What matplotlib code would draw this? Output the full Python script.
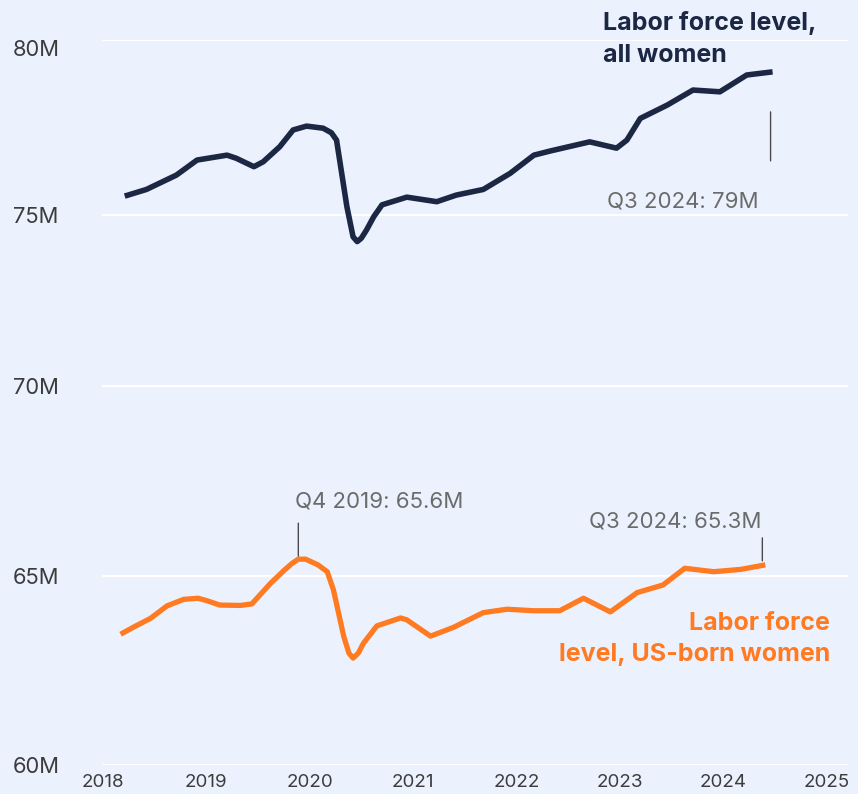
import numpy as np
import matplotlib
matplotlib.use("Agg")
import matplotlib.pyplot as plt
from matplotlib.transforms import ScaledTranslation

plt.rcParams["font.family"] = ["Inter", "DejaVu Sans"]

# decimal year, labor force level in millions
all_years = [2018.21, 2018.42, 2018.71, 2018.91, 2019.20, 2019.29, 2019.46, 2019.55,
             2019.71, 2019.84, 2019.97, 2020.13, 2020.21, 2020.26, 2020.36, 2020.42,
             2020.46, 2020.50, 2020.55, 2020.62, 2020.70, 2020.94, 2021.23, 2021.42,
             2021.68, 2021.94, 2022.17, 2022.33, 2022.71, 2022.97, 2023.07, 2023.20,
             2023.46, 2023.71, 2023.97, 2024.23, 2024.48]
all_women = [75.54, 75.73, 76.14, 76.57, 76.71, 76.62, 76.38, 76.52,
             76.95, 77.43, 77.54, 77.48, 77.35, 77.14, 75.24, 74.36,
             74.22, 74.32, 74.56, 74.95, 75.29, 75.51, 75.38, 75.57,
             75.73, 76.19, 76.71, 76.83, 77.09, 76.91, 77.14, 77.76,
             78.14, 78.57, 78.52, 79.00, 79.09]

us_years = [2018.17, 2018.29, 2018.46, 2018.62, 2018.78, 2018.92, 2019.00, 2019.13,
            2019.33, 2019.44, 2019.62, 2019.75, 2019.83, 2019.89, 2019.96, 2020.08,
            2020.17, 2020.23, 2020.33, 2020.38, 2020.42, 2020.47, 2020.52, 2020.65,
            2020.88, 2020.94, 2021.17, 2021.39, 2021.68, 2021.91, 2022.17, 2022.42,
            2022.65, 2022.91, 2023.17, 2023.42, 2023.63, 2023.91, 2024.17, 2024.41]
us_born = [63.45, 63.63, 63.87, 64.20, 64.37, 64.40, 64.34, 64.22,
           64.21, 64.25, 64.79, 65.13, 65.32, 65.43, 65.43, 65.28,
           65.10, 64.62, 63.39, 62.95, 62.82, 62.95, 63.21, 63.67,
           63.88, 63.83, 63.40, 63.63, 64.02, 64.11, 64.07, 64.07,
           64.40, 64.04, 64.55, 64.75, 65.19, 65.10, 65.16, 65.28]

y_ticks = [60, 65, 70, 75, 80]
y_labels = ["60M", "65M", "70M", "75M", "80M"]
x_ticks = [2018, 2019, 2020, 2021, 2022, 2023, 2024, 2025]

# gridline heights (px above the 60M line) in the source: spacing is not even
grid_px = [0, 189.5, 379.5, 550, 725]

BG = "#EBF2FE"
NAVY = "#1B2743"
ORANGE = "#FF7A21"
GREY = "#6B6B6B"

knots_v = np.array([0.0] + y_ticks + [200.0])
knots_p = np.array([-60 * 37.9] + grid_px + [725 + 120 * 35.0])


def fwd(v):
    return np.interp(v, knots_v, knots_p)


def inv(p):
    return np.interp(p, knots_p, knots_v)


def px(dx, dy):
    # shift by screen pixels (dpi is 100)
    return ScaledTranslation(dx / 100, dy / 100, fig.dpi_scale_trans)


fig = plt.figure(figsize=(8.58, 7.94), dpi=100, facecolor=BG)
ax = fig.add_axes([102 / 858, 1 - 765 / 794, 746 / 858, 725 / 794])
ax.set_facecolor(BG)
ax.set_yscale("function", functions=(fwd, inv))
ax.set_xlim(2017.99, 2025.21)
ax.set_ylim(60, 80)

ax.plot(all_years, all_women, color=NAVY, lw=4.0, solid_joinstyle="round",
        solid_capstyle="butt", zorder=3)
ax.plot(us_years, us_born, color=ORANGE, lw=3.8, solid_joinstyle="round",
        solid_capstyle="butt", zorder=3)

ax.set_yticks(y_ticks, y_labels)
ax.set_xticks(x_ticks, [str(t) for t in x_ticks])
ax.tick_params(axis="y", length=0, pad=64, labelsize=15.8, labelcolor="#3C3C3C")
ax.tick_params(axis="x", length=0, pad=6.5, labelsize=13.5, labelcolor="#3C3C3C")
for lab in ax.get_yticklabels():
    lab.set_horizontalalignment("left")
top = ax.get_yticklabels()[-1]
top.set_transform(top.get_transform() + px(0, -8))

ax.grid(axis="y", color="white", lw=1.4)
ax.grid(axis="x", visible=False)
ax.set_axisbelow(True)
for s in ax.spines.values():
    s.set_visible(False)

# callouts
line_kw = dict(arrowstyle="-", color="#4A4A4A", lw=1.0, shrinkA=0, shrinkB=0)
end_all = (all_years[-1], all_women[-1])
ax.annotate("", xy=end_all, xycoords=ax.transData + px(-2, -40),
            xytext=(0, -49), textcoords="offset pixels", arrowprops=line_kw)
ax.annotate("Q3 2024: 79M", xy=end_all, xytext=(-14, -130), textcoords="offset pixels",
            ha="right", va="center", fontsize=16, color=GREY)

peak = us_born.index(max(us_born))
peak_pt = (us_years[peak], us_born[peak])
ax.annotate("", xy=peak_pt, xycoords=ax.transData + px(0, 3),
            xytext=(0, 33), textcoords="offset pixels", arrowprops=line_kw)
ax.annotate("Q4 2019: 65.6M", xy=peak_pt, xytext=(-3, 58), textcoords="offset pixels",
            ha="left", va="center", fontsize=16, color=GREY)

end_us = (us_years[-1], us_born[-1])
ax.annotate("", xy=end_us, xycoords=ax.transData + px(-3, 4),
            xytext=(0, 23), textcoords="offset pixels", arrowprops=line_kw)
ax.annotate("Q3 2024: 65.3M", xy=end_us, xytext=(-4, 43), textcoords="offset pixels",
            ha="right", va="center", fontsize=16, color=GREY)

ax.text(0.6716, 1.0014, "Labor force level,\nall women", transform=ax.transAxes,
        ha="left", va="center", fontsize=18, fontweight="bold", color=NAVY,
        linespacing=1.48)
ax.text(0.9759, 0.1735, "Labor force\nlevel, US-born women", transform=ax.transAxes,
        ha="right", va="center", fontsize=18, fontweight="bold", color=ORANGE,
        linespacing=1.43, multialignment="right")

fig.savefig("out.png", dpi=100, facecolor=BG)
